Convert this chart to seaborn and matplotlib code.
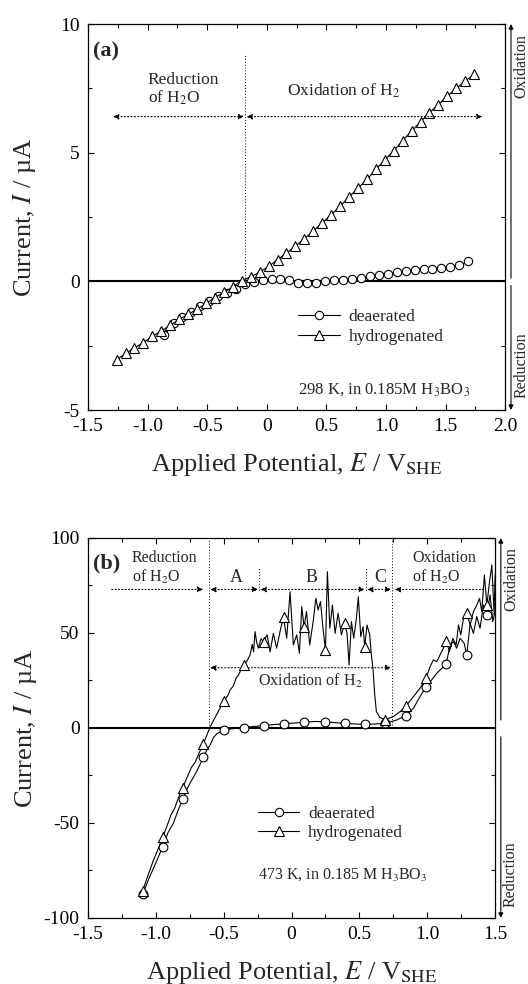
import seaborn as sns
import matplotlib.pyplot as plt
from matplotlib.lines import Line2D
from matplotlib.ticker import MultipleLocator, FixedLocator, FixedFormatter

# ---- panel (a) data : 298 K ----
pot_a_hyd = [-1.26, -1.185, -1.11, -1.035, -0.96, -0.885, -0.81, -0.735, -0.66, -0.585,
             -0.51, -0.435, -0.36, -0.285, -0.21, -0.135, -0.06, 0.015, 0.09, 0.165,
             0.24, 0.315, 0.39, 0.465, 0.54, 0.615, 0.69, 0.765, 0.84, 0.915,
             0.99, 1.065, 1.14, 1.215, 1.29, 1.365, 1.44, 1.515, 1.59, 1.665, 1.74]
cur_a_hyd = [-3.05, -2.80, -2.58, -2.38, -2.13, -1.93, -1.70, -1.48, -1.28, -1.08,
             -0.86, -0.63, -0.43, -0.22, 0.03, 0.17, 0.36, 0.58, 0.84, 1.10,
             1.37, 1.66, 1.96, 2.27, 2.59, 2.92, 3.28, 3.62, 3.96, 4.35,
             4.72, 5.07, 5.47, 5.84, 6.20, 6.55, 6.87, 7.20, 7.50, 7.78, 8.05]
pot_a_dea = [-0.86, -0.78, -0.71, -0.635, -0.56, -0.485, -0.41, -0.335, -0.26, -0.185,
             -0.11, -0.035, 0.04, 0.115, 0.19, 0.265, 0.34, 0.415, 0.49, 0.565,
             0.64, 0.715, 0.79, 0.865, 0.94, 1.015, 1.09, 1.165, 1.24, 1.315,
             1.39, 1.465, 1.54, 1.615, 1.69]
cur_a_dea = [-2.10, -1.60, -1.38, -1.19, -0.97, -0.77, -0.58, -0.45, -0.29, -0.11,
             -0.02, 0.07, 0.09, 0.09, 0.04, -0.07, -0.07, -0.05, 0.01, 0.04,
             0.07, 0.09, 0.14, 0.19, 0.26, 0.30, 0.36, 0.40, 0.45, 0.49,
             0.49, 0.53, 0.56, 0.62, 0.78]

# ---- panel (b) data : 473 K ----
pot_b_marks = [-1.097, -0.95, -0.802, -0.65, -0.498, -0.35, -0.205, -0.057, 0.094,
               0.248, 0.393, 0.542, 0.689, 0.844, 0.991, 1.139, 1.291, 1.439]
cur_b_hyd_marks = [-85.6, -57.5, -31.5, -8.3, 14.4, 33.2, 45.4, 58.4, 53.0,
                   41.0, 55.0, 42.8, 4.4, 11.6, 26.2, 45.8, 60.4, 64.7]
cur_b_dea_marks = [-87.6, -62.6, -37.5, -15.5, -1.1, 0.2, 1.2, 2.2, 3.0,
                   3.3, 2.4, 1.9, 2.4, 6.5, 21.7, 33.5, 38.4, 59.5]

pot_b_hyd = [-1.097, -1.06, -1.02, -0.985, -0.95, -0.92, -0.89, -0.86, -0.83, -0.802,
             -0.77, -0.74, -0.71, -0.68, -0.65, -0.62, -0.59, -0.56, -0.53, -0.498,
             -0.47, -0.453, -0.43, -0.41, -0.39, -0.37, -0.355, -0.33, -0.306, -0.29,
             -0.28, -0.269, -0.257, -0.245, -0.225, -0.208, -0.18, -0.158, -0.134, -0.11,
             -0.085, -0.06, -0.036, -0.011, 0.013, 0.038, 0.058, 0.075, 0.092, 0.11,
             0.134, 0.159, 0.179, 0.196, 0.213, 0.233, 0.25, 0.264, 0.282, 0.301,
             0.321, 0.343, 0.367, 0.392, 0.409, 0.424, 0.441, 0.458, 0.478, 0.492,
             0.51, 0.527, 0.539, 0.556, 0.576, 0.588, 0.60, 0.613, 0.625, 0.65,
             0.689, 0.72, 0.75, 0.80, 0.844, 0.898, 0.947, 0.991, 1.021, 1.045,
             1.07, 1.094, 1.119, 1.139, 1.164, 1.188, 1.213, 1.23, 1.247, 1.267,
             1.291, 1.316, 1.34, 1.365, 1.385, 1.402, 1.421, 1.439, 1.459, 1.476,
             1.493, 1.50]
cur_b_hyd = [-85.6, -78, -70, -64, -57.5, -52, -46, -42, -36, -31.2,
             -26, -21, -18, -13, -8.4, -3, 2, 6, 10, 14.4,
             17, 20, 22, 26, 28, 31, 33.2, 35, 38.4, 44,
             40, 50.7, 45, 42, 47, 45.4, 49, 40, 49.8, 42,
             50.7, 58.6, 47.2, 71.7, 43.7, 49, 39.3, 63.9, 53.3, 61.2,
             43.7, 56, 68.2, 62.1, 66.5, 51.6, 41, 82.3, 52.5, 64.7,
             49.8, 60.4, 49, 55, 49.8, 33.2, 56, 47.2, 57.7, 69.1,
             48, 53.3, 42.8, 54.2, 49, 38.4, 31.4, 17.4, 8.6, 5.6,
             4.4, 5.2, 6, 8.6, 11.6, 16.5, 20.9, 26.2, 32.3, 35.8,
             34.9, 38.4, 42, 45.8, 40.2, 47.2, 43.7, 54.2, 49, 57.7,
             60.4, 54.2, 61.2, 64.7, 68.2, 61.2, 80.5, 64.7, 77, 85.8,
             59.5, 80.5]

pot_b_dea = [-1.097, -1.05, -1.0, -0.95, -0.91, -0.87, -0.84, -0.802, -0.77, -0.74,
             -0.70, -0.65, -0.62, -0.60, -0.575, -0.55, -0.498, -0.45, -0.35, -0.28,
             -0.205, -0.13, -0.057, 0.02, 0.094, 0.17, 0.248, 0.32, 0.393, 0.47,
             0.542, 0.62, 0.689, 0.775, 0.844, 0.898, 0.947, 0.991, 1.033, 1.07,
             1.107, 1.139, 1.168, 1.193, 1.217, 1.242, 1.272, 1.291, 1.316, 1.34,
             1.365, 1.389, 1.414, 1.439, 1.463, 1.483, 1.50]
cur_b_dea = [-87.6, -79, -71, -62.6, -55, -50, -44, -37.5, -32, -28,
             -23, -15.5, -11, -9, -5, -3, -1.1, -0.5, 0.2, 0.8,
             1.2, 1.8, 2.2, 2.6, 3.0, 3.4, 3.3, 2.8, 2.4, 2.1,
             1.9, 2.1, 2.4, 4.2, 6.5, 10.4, 16.5, 21.7, 25.3, 28.8,
             31.4, 33.5, 43.7, 45.4, 42, 47.2, 44.6, 38.4, 55, 49.8,
             58.6, 52.5, 64.7, 59.5, 70, 56, 61.2]

xticks_a = [-1.5, -1.0, -0.5, 0, 0.5, 1.0, 1.5, 2.0]
xlabels_a = ["-1.5", "-1.0", "-0.5", "0", "0.5", "1.0", "1.5", "2.0"]
yticks_a = [-5, 0, 5, 10]
ylabels_a = ["-5", "0", "5", "10"]
xticks_b = [-1.5, -1.0, -0.5, 0, 0.5, 1.0, 1.5]
xlabels_b = ["-1.5", "-1.0", "-0.5", "0", "0.5", "1.0", "1.5"]
yticks_b = [-100, -50, 0, 50, 100]
ylabels_b = ["-100", "-50", "0", "50", "100"]

sns.set_theme(style="ticks")
plt.rcParams['font.family'] = ['Liberation Serif', 'DejaVu Serif']
plt.rcParams['mathtext.fontset'] = 'stix'
plt.rcParams['axes.unicode_minus'] = False

fig = plt.figure(figsize=(5.28, 9.84), dpi=100)
ax_a = fig.add_axes([0.1667, 0.5833, 0.790, 0.3923])
ax_b = fig.add_axes([0.1667, 0.0671, 0.771, 0.3862])

mk = dict(color='black', lw=0.8, markerfacecolor='white',
          markeredgecolor='black', markeredgewidth=0.8)
circ = dict(marker='o', markersize=6, **mk)
tri = dict(marker='^', markersize=7, **mk)

# ---------------- panel (a) ----------------
ax = ax_a
ax.axhline(0, color='black', lw=1.5, zorder=1)
sns.lineplot(x=pot_a_dea, y=cur_a_dea, ax=ax, sort=False, estimator=None, zorder=3, **circ)
sns.lineplot(x=pot_a_hyd, y=cur_a_hyd, ax=ax, sort=False, estimator=None, zorder=3, **tri)

dot = (0, (1, 2))
ax.plot([-0.18, -0.18], [0, 8.8], color='black', lw=0.7, ls=dot)


def harrow(ax, x0, x1, y, style='<|-|>'):
    ax.annotate('', xy=(x1, y), xytext=(x0, y),
                arrowprops=dict(arrowstyle=style, color='black', lw=0.8, ls=dot,
                                shrinkA=0, shrinkB=0, mutation_scale=8))


harrow(ax, -1.29, -0.19, 6.4)
harrow(ax, -0.17, 1.81, 6.4)

ax.text(-1.455, 8.72, "(a)", fontsize=16, fontweight='bold', ha='left', va='baseline')
ax.text(-1.0, 7.65, "Reduction", fontsize=12.5, ha='left', va='baseline')
ax.text(-1.0, 6.95, "of H$_2$O", fontsize=12.5, ha='left', va='baseline')
ax.text(0.167, 7.22, "Oxidation of H$_2$", fontsize=12.5, ha='left', va='baseline')
ax.text(0.263, -4.36, "298 K, in 0.185M H$_3$BO$_3$", fontsize=12, ha='left', va='baseline')

ax.set_xlim(-1.5, 2.0)
ax.set_ylim(-5, 10)

# ---------------- panel (b) ----------------
ax = ax_b
ax.axhline(0, color='black', lw=1.5, zorder=1)
sns.lineplot(x=pot_b_dea, y=cur_b_dea, ax=ax, sort=False, estimator=None, color='black', lw=0.8, zorder=2)
sns.lineplot(x=pot_b_hyd, y=cur_b_hyd, ax=ax, sort=False, estimator=None, color='black', lw=0.8, zorder=2)
sns.scatterplot(x=pot_b_marks, y=cur_b_dea_marks, ax=ax, marker='o', s=40, color='white',
                edgecolor='black', linewidth=0.8, zorder=4)
sns.scatterplot(x=pot_b_marks, y=cur_b_hyd_marks, ax=ax, marker='^', s=52, color='white',
                edgecolor='black', linewidth=0.8, zorder=4)

ax.plot([-0.608, -0.608], [0, 100], color='black', lw=0.7, ls=dot)
ax.plot([0.743, 0.743], [0, 100], color='black', lw=0.7, ls=dot)
ax.plot([-0.237, -0.237], [72.6, 84], color='black', lw=0.7, ls=dot)
ax.plot([0.549, 0.549], [72.6, 84], color='black', lw=0.7, ls=dot)

harrow(ax, -1.325, -0.65, 72.9, style='-|>')
harrow(ax, -0.600, -0.245, 72.9)
harrow(ax, -0.229, 0.541, 72.9)
harrow(ax, 0.557, 0.735, 72.9)
harrow(ax, 0.76, 1.414, 72.9, style='<|-')
harrow(ax, -0.600, 0.735, 31.7)

ax.text(-1.463, 83.7, "(b)", fontsize=16, fontweight='bold', ha='left', va='baseline')
ax.text(-1.178, 87.6, "Reduction", fontsize=11.5, ha='left', va='baseline')
ax.text(-1.178, 76.8, "of H$_2$O", fontsize=11.5, ha='left', va='baseline')
ax.text(0.89, 87.6, "Oxidation", fontsize=11.5, ha='left', va='baseline')
ax.text(0.89, 76.8, "of H$_2$O", fontsize=11.5, ha='left', va='baseline')
ax.text(-0.409, 76.8, "A", fontsize=13, ha='center', va='baseline')
ax.text(0.149, 76.8, "B", fontsize=13, ha='center', va='baseline')
ax.text(0.652, 76.8, "C", fontsize=13, ha='center', va='baseline')
ax.text(0.138, 22.4, "Oxidation of H$_2$", fontsize=11.5, ha='center', va='baseline')
ax.text(-0.247, -79.5, "473 K, in 0.185 M H$_3$BO$_3$", fontsize=11.5, ha='left', va='baseline')

ax.set_xlim(-1.5, 1.5)
ax.set_ylim(-100, 100)

# ---------------- shared styling ----------------
setup = [
    (ax_a, xticks_a, xlabels_a, yticks_a, ylabels_a, 0.25, 2.5, (0.504, 0.262), (0.12, -0.16), (10, -5)),
    (ax_b, xticks_b, xlabels_b, yticks_b, ylabels_b, 0.25, 25, (0.417, 0.296), (4.2, -4.7), (100, -100)),
]
for ax, xt, xl, yt, yl, xmin, ymin, leg_pos, gap, ends in setup:
    ax.xaxis.set_major_locator(FixedLocator(xt))
    ax.xaxis.set_major_formatter(FixedFormatter(xl))
    ax.yaxis.set_major_locator(FixedLocator(yt))
    ax.yaxis.set_major_formatter(FixedFormatter(yl))
    ax.xaxis.set_minor_locator(MultipleLocator(xmin))
    ax.yaxis.set_minor_locator(MultipleLocator(ymin))
    ax.tick_params(which='both', direction='in', top=True, right=True, width=0.8,
                   labelsize=14, colors='black')
    ax.tick_params(which='major', length=4, pad=6)
    ax.tick_params(which='minor', length=3)
    for s in ax.spines.values():
        s.set_linewidth(0.9)
        s.set_color('black')
    ax.set_xlabel("Applied Potential, $E$ / V$_{\\mathrm{SHE}}$", fontsize=19, labelpad=11)
    ax.set_ylabel("Current, $I$ / \u00b5A", fontsize=19)
    ax.yaxis.set_label_coords(-0.12, 0.5)

    handles = [Line2D([], [], **circ), Line2D([], [], **tri)]
    ax.legend(handles, ['deaerated', 'hydrogenated'], loc='upper left', bbox_to_anchor=leg_pos,
              frameon=False, fontsize=12.5, handlelength=2.4, handletextpad=0.5,
              labelspacing=0.2, borderpad=0, borderaxespad=0)

    # oxidation / reduction arrows outside the right spine
    tr = ax.get_yaxis_transform()
    for y_end, y_start in zip(ends, gap):
        ax.annotate('', xy=(1.014, y_end), xytext=(1.014, y_start), xycoords=tr, textcoords=tr,
                    annotation_clip=False,
                    arrowprops=dict(arrowstyle='-|>', color='black', lw=0.8, shrinkA=0, shrinkB=0,
                                    mutation_scale=7))
    ax.text(1.039, 0.975, "Oxidation", transform=ax.transAxes, rotation=90, fontsize=11.5,
            ha='center', va='top')
    ax.text(1.039, 0.03, "Reduction", transform=ax.transAxes, rotation=90, fontsize=11.5,
            ha='center', va='bottom')

fig.savefig("out.png", dpi=100)
